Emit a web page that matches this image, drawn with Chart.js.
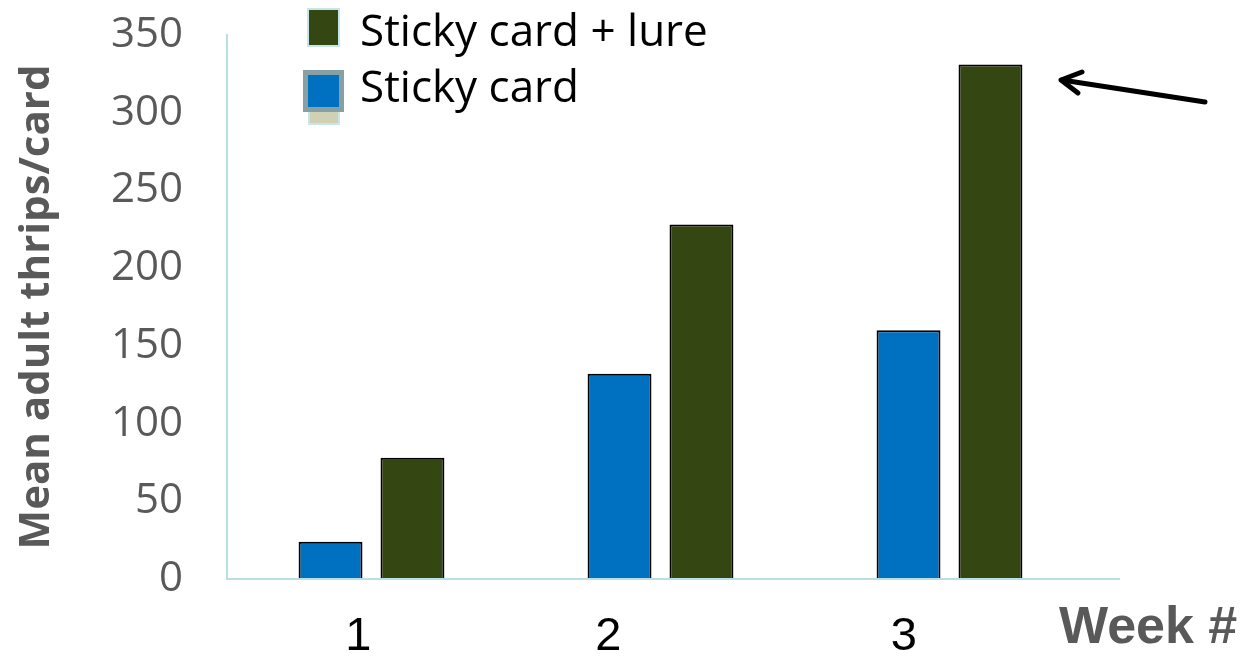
<!DOCTYPE html>
<html>
<head>
<meta charset="utf-8">
<script src="https://cdn.jsdelivr.net/npm/chart.js@4/dist/chart.umd.min.js"></script>
<style>
  html, body { margin: 0; padding: 0; background: #fff; }
  #wrap { width: 1245px; height: 659px; }
</style>
</head>
<body>
<div id="wrap"><canvas id="thripsChart" width="1245" height="659"></canvas></div>
<script>
const weeks = ['1', '2', '3'];
const stickyCard = [24, 132, 160];
const stickyCardLure = [78, 228, 331];
const yTicks = [0, 50, 100, 150, 200, 250, 300, 350];

const axisColor = '#b9dfe5';
const greyText = '#595959';
// week labels sit a bit left of their bar pairs in the original, pad with spaces
const labelPad = [2, 8, 7];

// legend drawn by hand: two rows, lure first
const legendBox = {
    id: 'legendBox',
    afterDraw(chart) {
        const ctx = chart.ctx;
        const sets = chart.data.datasets;
        ctx.save();
        // green square
        ctx.fillStyle = '#c6e6ea';
        ctx.fillRect(307, 8, 33, 39);
        ctx.fillStyle = sets[1].backgroundColor;
        ctx.fillRect(309, 10, 29, 35);
        // blue square with grey frame and beige tile underneath
        ctx.fillStyle = '#c6e6ea';
        ctx.fillRect(308, 108, 32, 17);
        ctx.fillStyle = '#cfd0b4';
        ctx.fillRect(310, 110, 28, 13);
        ctx.fillStyle = '#86a0a3';
        ctx.fillRect(303, 70, 41, 42);
        ctx.fillStyle = sets[0].backgroundColor;
        ctx.fillRect(308, 75, 31, 32);

        ctx.fillStyle = '#000';
        ctx.font = '44px "Open Sans"';
        ctx.textBaseline = 'middle';
        ctx.textAlign = 'left';
        ctx.fillText(sets[1].label, 360, 33);
        ctx.fillText(sets[0].label, 360, 89);

        // x axis title
        ctx.fillStyle = greyText;
        ctx.font = 'bold 52px "Liberation Sans"';
        ctx.fillText('Week #', 1059, 629);

        // extend the x axis line past the last category
        const area = chart.chartArea;
        const y0 = chart.scales.y.getPixelForValue(0);
        ctx.strokeStyle = axisColor;
        ctx.lineWidth = 2;
        ctx.beginPath();
        ctx.moveTo(area.left, y0);
        ctx.lineTo(area.right + 26, y0);
        ctx.stroke();

        // arrow pointing to the tallest bar
        ctx.strokeStyle = '#000';
        ctx.lineWidth = 5;
        ctx.lineCap = 'round';
        ctx.lineJoin = 'round';
        ctx.beginPath();
        ctx.moveTo(1205, 102);
        ctx.lineTo(1062, 80);
        ctx.stroke();
        ctx.beginPath();
        ctx.moveTo(1082, 72);
        ctx.lineTo(1061, 80);
        ctx.lineTo(1078, 93);
        ctx.stroke();
        ctx.restore();
    }
};

new Chart(document.getElementById('thripsChart'), {
    type: 'bar',
    data: {
        labels: weeks,
        datasets: [{
            label: 'Sticky card',
            data: stickyCard,
            backgroundColor: '#0070c0',
            borderColor: '#000',
            borderWidth: 2,
            borderSkipped: 'bottom',
            categoryPercentage: 0.567,
            barPercentage: 0.78
        }, {
            label: 'Sticky card + lure',
            data: stickyCardLure,
            backgroundColor: '#344611',
            borderColor: '#000',
            borderWidth: 2,
            borderSkipped: 'bottom',
            categoryPercentage: 0.567,
            barPercentage: 0.78
        }]
    },
    options: {
        responsive: false,
        animation: false,
        layout: { padding: { top: 35, right: 151, left: 0, bottom: 0 } },
        plugins: {
            legend: { display: false },
            tooltip: { enabled: false }
        },
        scales: {
            x: {
                grid: { display: false, drawTicks: false },
                border: { display: false },
                ticks: {
                    color: '#000',
                    font: { family: '"Liberation Sans"', size: 47 },
                    padding: 30,
                    callback: (v, i) => weeks[i] + ' '.repeat(labelPad[i])
                },
                afterFit(scale) {
                    scale.height = 80;
                    scale.paddingLeft = 0;
                    scale.paddingRight = 0;
                }
            },
            y: {
                min: 0,
                max: 350,
                afterBuildTicks(scale) { scale.ticks = yTicks.map(v => ({ value: v })); },
                grid: { display: false, drawTicks: false },
                border: { display: true, color: axisColor, width: 2 },
                ticks: {
                    color: greyText,
                    font: { family: '"Open Sans"', size: 42 },
                    padding: 44
                },
                title: {
                    display: true,
                    text: 'Mean adult thrips/card',
                    color: greyText,
                    font: { family: '"Open Sans"', size: 42, weight: 'bold' },
                    padding: { top: 12, bottom: 0 }
                },
                afterFit(scale) {
                    scale.width = 227;
                    scale.paddingTop = 0;
                    scale.paddingBottom = 0;
                }
            }
        }
    },
    plugins: [legendBox]
});
</script>
</body>
</html>
